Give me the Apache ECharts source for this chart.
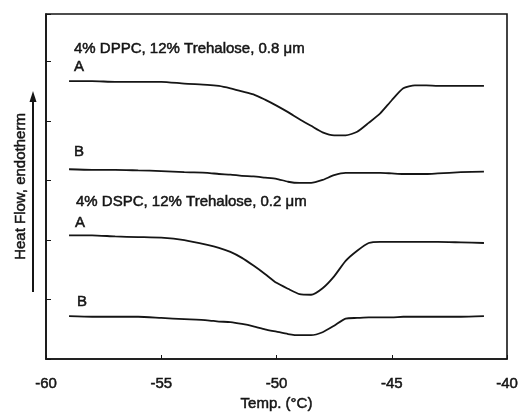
<!DOCTYPE html>
<html>
<head>
<meta charset="utf-8">
<script src="https://cdn.jsdelivr.net/npm/echarts@6/dist/echarts.min.js"></script>
<style>
  html, body { margin: 0; padding: 0; background: #fff; }
  #chart { width: 521px; height: 412px; }
</style>
</head>
<body>
<div id="chart"></div>
<script>
  // temperature grid (°C) shared by all traces
  const temps = [-59, -58, -57, -56, -55, -54, -53, -52.5, -52, -51.5, -51, -50.5, -50, -49.5, -49,
    -48.5, -48, -47.5, -47, -46.5, -46, -45.5, -45, -44.5, -44, -43.5, -43, -42, -41]

  // heat flow (arbitrary offset units)
  const dppcA = [4.67, 4.67, 4.66, 4.66, 4.66, 4.63, 4.61, 4.59, 4.55, 4.50, 4.45, 4.36, 4.26, 4.15, 4.03,
    3.92, 3.81, 3.76, 3.76, 3.82, 3.97, 4.13, 4.35, 4.55, 4.60, 4.60, 4.59, 4.59, 4.59]
  const dppcB = [3.19, 3.18, 3.18, 3.17, 3.16, 3.14, 3.13, 3.11, 3.10, 3.08, 3.07, 3.05, 3.03, 2.98, 2.96,
    2.96, 3.01, 3.09, 3.13, 3.13, 3.13, 3.13, 3.12, 3.11, 3.11, 3.11, 3.12, 3.14, 3.15]
  const dspcA = [2.08, 2.08, 2.06, 2.05, 2.04, 2.00, 1.92, 1.87, 1.80, 1.70, 1.57, 1.43, 1.28, 1.18, 1.09,
    1.08, 1.19, 1.39, 1.65, 1.82, 1.95, 1.97, 1.97, 1.97, 1.97, 1.97, 1.97, 1.96, 1.95]
  const dspcB = [0.72, 0.71, 0.71, 0.71, 0.69, 0.67, 0.65, 0.63, 0.62, 0.59, 0.55, 0.50, 0.46, 0.42, 0.40,
    0.40, 0.45, 0.56, 0.68, 0.69, 0.70, 0.70, 0.70, 0.71, 0.71, 0.71, 0.71, 0.71, 0.72]

  const seriesNames = ['DPPC A', 'DPPC B', 'DSPC A', 'DSPC B']
  const seriesValues = [dppcA, dppcB, dspcA, dspcB]

  const ink = '#151515'
  const font = 'Arial, "Liberation Sans", sans-serif'
  // scanned print looks heavier than plain Arial, so give text a thin outline
  const heavy = { textBorderColor: ink, textBorderWidth: 0.5 }

  const chart = echarts.init(document.getElementById('chart'))

  const labelText = (text, x, y) => ({
    type: 'text',
    x: x,
    y: y,
    style: { text: text, fill: ink, font: '15px ' + font, verticalAlign: 'middle', stroke: ink, lineWidth: 0.5 }
  })

  const option = {
    backgroundColor: '#fff',
    animation: false,
    grid: {
      left: 46, right: 14, top: 14, bottom: 53,
      outerBoundsMode: 'none',
      show: true, borderColor: ink, borderWidth: 1.6
    },
    xAxis: {
      type: 'value',
      min: -60, max: -40, interval: 5,
      name: 'Temp. (°C)',
      nameLocation: 'middle',
      nameGap: 37,
      nameTextStyle: Object.assign({ color: ink, fontSize: 15, fontFamily: font }, heavy),
      axisLine: { show: true, lineStyle: { color: ink, width: 1.6 } },
      axisTick: { show: true, inside: true, length: 4, lineStyle: { color: ink } },
      axisLabel: Object.assign({ color: ink, fontSize: 15, fontFamily: font, margin: 17 }, heavy),
      splitLine: { show: false }
    },
    yAxis: {
      type: 'value',
      min: 0, max: 5.8, interval: 1,
      name: 'Heat Flow, endotherm',
      nameLocation: 'middle',
      nameGap: 18,
      nameRotate: 90,
      nameTextStyle: Object.assign({ color: ink, fontSize: 15, fontFamily: font }, heavy),
      axisLine: { show: true, lineStyle: { color: ink, width: 1.6 } },
      axisTick: { show: true, inside: true, length: 5, lineStyle: { color: ink } },
      axisLabel: { show: false },
      splitLine: { show: false }
    },
    graphic: [
      labelText('4% DPPC, 12% Trehalose, 0.8 μm', 74, 49),
      labelText('A', 74, 67),
      labelText('B', 74, 152),
      labelText('4% DSPC, 12% Trehalose, 0.2 μm', 76, 202),
      labelText('A', 75, 223),
      labelText('B', 77, 302),
      // endotherm arrow beside the axis name
      { type: 'line', shape: { x1: 33, y1: 292, x2: 33, y2: 100 }, style: { stroke: ink, lineWidth: 2 } },
      { type: 'polygon', shape: { points: [[33, 91], [29.5, 102], [36.5, 102]] }, style: { fill: ink } }
    ],
    series: seriesValues.map((vals, i) => ({
      name: seriesNames[i],
      type: 'line',
      data: temps.map((t, j) => [t, vals[j]]),
      showSymbol: false,
      smooth: 0.2,
      lineStyle: { color: ink, width: 1.8 }
    }))
  }

  chart.setOption(option)
</script>
</body>
</html>
